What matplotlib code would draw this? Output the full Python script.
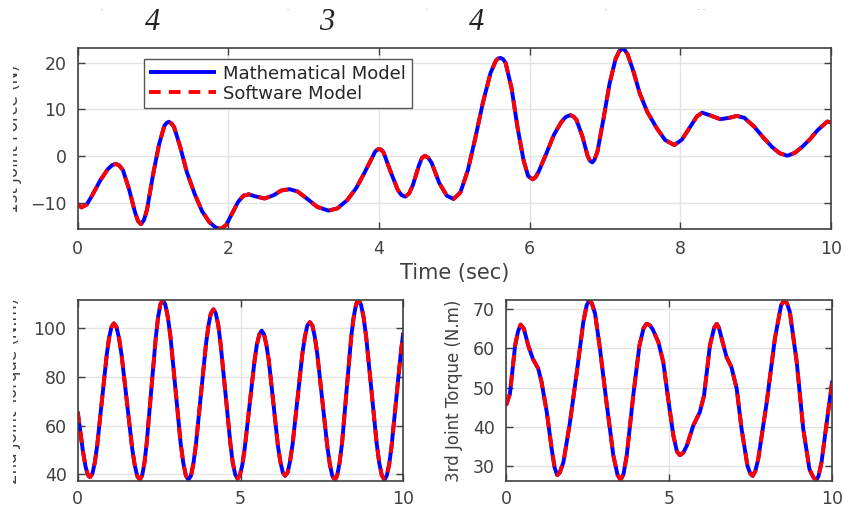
import matplotlib
matplotlib.use("Agg")
from matplotlib import pyplot as plt
from matplotlib.transforms import Bbox, TransformedBbox

# 1st joint force (N) vs time (sec)
t_force = [0.00, 0.05, 0.12, 0.20, 0.30, 0.40, 0.46, 0.51, 0.55, 0.60, 0.68, 0.76,
           0.80, 0.84, 0.88, 0.92, 1.00, 1.08, 1.15, 1.18, 1.21, 1.245, 1.28, 1.36,
           1.45, 1.55, 1.65, 1.75, 1.83, 1.90, 1.97, 2.05, 2.13, 2.20, 2.27, 2.35,
           2.48, 2.60, 2.70, 2.81, 2.92, 3.05, 3.18, 3.33, 3.45, 3.58, 3.70, 3.80,
           3.90, 3.95, 3.99, 4.025, 4.06, 4.15, 4.25, 4.30, 4.35, 4.40, 4.45, 4.53,
           4.57, 4.61, 4.655, 4.70, 4.80, 4.90, 4.99, 5.08, 5.18, 5.28, 5.38, 5.48,
           5.55, 5.58, 5.61, 5.645, 5.68, 5.76, 5.84, 5.92, 5.98, 6.04, 6.08, 6.12,
           6.22, 6.32, 6.42, 6.48, 6.54, 6.58, 6.62, 6.70, 6.77, 6.80, 6.83, 6.86,
           6.90, 6.98, 7.06, 7.14, 7.19, 7.23, 7.265, 7.30, 7.38, 7.46, 7.56, 7.69,
           7.80, 7.92, 8.02, 8.12, 8.22, 8.29, 8.40, 8.53, 8.65, 8.75, 8.85, 8.98,
           9.10, 9.22, 9.32, 9.42, 9.52, 9.62, 9.72, 9.82, 9.95, 10.00]
force = [-10.3, -11.0, -10.4, -8.2, -5.2, -2.8, -1.9, -1.7, -2.0, -3.0, -7.0, -12.0,
         -13.9, -14.6, -13.7, -11.5, -4.0, 2.5, 6.5, 7.1, 7.35, 7.0, 6.2, 2.0,
         -3.5, -8.0, -11.8, -14.2, -15.3, -15.6, -14.8, -12.3, -9.8, -8.5, -8.2, -8.6,
         -9.1, -8.4, -7.4, -7.1, -7.6, -9.2, -10.9, -11.7, -11.2, -9.4, -6.8, -3.8,
         -0.6, 1.0, 1.5, 1.4, 0.8, -3.2, -7.3, -8.4, -8.7, -8.0, -6.2, -2.0,
         -0.4, 0.07, -0.4, -1.5, -5.8, -8.5, -9.2, -7.8, -3.0, 4.0, 11.5, 17.8,
         20.4, 20.9, 21.05, 20.8, 20.0, 14.5, 6.0, -1.0, -4.3, -5.0, -4.5, -3.3,
         0.5, 4.5, 7.3, 8.4, 8.78, 8.5, 7.8, 4.2, 0.0, -1.0, -1.36, -0.8,
         1.0, 8.0, 15.5, 20.8, 22.5, 23.0, 22.7, 21.8, 18.0, 13.5, 9.5, 5.9,
         3.4, 2.36, 3.5, 6.0, 8.5, 9.3, 8.7, 7.9, 8.2, 8.6, 8.2, 6.3,
         4.0, 1.9, 0.6, 0.07, 0.7, 2.0, 3.6, 5.5, 7.4, 7.2]

# 2nd joint torque (N.m)
t_tau2 = [0.00, 0.08, 0.16, 0.24, 0.31, 0.35, 0.38, 0.453, 0.526, 0.599, 0.745, 0.891,
          0.964, 1.037, 1.11, 1.19, 1.27, 1.35, 1.51, 1.67, 1.75, 1.83, 1.91, 1.98,
          2.05, 2.12, 2.26, 2.40, 2.47, 2.54, 2.61, 2.69, 2.768, 2.85, 3.005, 3.16,
          3.242, 3.32, 3.40, 3.48, 3.554, 3.63, 3.785, 3.94, 4.016, 4.09, 4.17, 4.24,
          4.318, 4.39, 4.54, 4.69, 4.762, 4.84, 4.91, 4.98, 5.058, 5.13, 5.28, 5.43,
          5.502, 5.58, 5.65, 5.72, 5.794, 5.87, 6.01, 6.15, 6.226, 6.30, 6.37, 6.45,
          6.522, 6.60, 6.75, 6.90, 6.978, 7.05, 7.13, 7.21, 7.284, 7.36, 7.515, 7.67,
          7.746, 7.82, 7.90, 7.97, 8.044, 8.12, 8.26, 8.40, 8.476, 8.55, 8.62, 8.70,
          8.78, 8.86, 9.02, 9.18, 9.26, 9.34, 9.42, 9.49, 9.566, 9.64, 9.785, 9.93,
          10.0]
tau2 = [65.7, 57.5, 49.5, 43.2, 39.8, 39.1, 38.8, 40.3, 44.8, 51.8, 70.4, 89.0,
        96.0, 100.5, 102.0, 100.5, 95.9, 88.8, 69.9, 50.9, 43.8, 39.2, 37.7, 39.5,
        44.7, 52.9, 74.7, 96.4, 104.6, 109.8, 111.6, 109.8, 104.6, 96.4, 74.7, 52.9,
        44.7, 39.5, 37.7, 39.4, 44.4, 52.1, 72.8, 93.4, 101.1, 106.1, 107.8, 106.1,
        101.2, 93.4, 73.0, 52.5, 44.7, 39.8, 38.1, 39.6, 43.9, 50.6, 68.6, 86.5,
        93.2, 97.5, 99.0, 97.6, 93.3, 86.7, 69.2, 51.6, 45.0, 40.7, 39.3, 40.8,
        45.3, 52.3, 70.9, 89.5, 96.5, 101.0, 102.5, 101.0, 96.3, 89.2, 70.1, 51.0,
        43.9, 39.3, 37.7, 39.5, 44.7, 52.9, 74.7, 96.4, 104.6, 109.8, 111.6, 109.8,
        104.6, 96.4, 74.7, 52.9, 44.7, 39.5, 37.7, 39.3, 44.0, 51.5, 71.1, 90.7,
        98.2]

# 3rd joint torque (N.m)
t_tau3 = [0.00, 0.12, 0.28, 0.37, 0.45, 0.55, 0.68, 0.82, 0.99, 1.09, 1.25, 1.40,
          1.49, 1.57, 1.65, 1.76, 1.96, 2.17, 2.37, 2.47, 2.55, 2.63, 2.73, 2.88,
          3.08, 3.29, 3.42, 3.51, 3.60, 3.70, 3.90, 4.09, 4.22, 4.31, 4.40, 4.49,
          4.67, 4.82, 4.97, 5.13, 5.24, 5.33, 5.43, 5.54, 5.74, 5.94, 6.07, 6.25,
          6.38, 6.46, 6.53, 6.61, 6.76, 6.91, 7.07, 7.22, 7.40, 7.48, 7.56, 7.64,
          7.73, 7.99, 8.24, 8.43, 8.52, 8.61, 8.70, 8.91, 9.11, 9.30, 9.41, 9.50,
          9.58, 9.67, 9.83, 10.0]
tau3 = [45.4, 48.4, 60.8, 64.4, 66.1, 65.0, 60.8, 57.4, 54.8, 51.4, 43.7, 34.3,
        29.5, 27.6, 28.3, 30.9, 41.1, 53.9, 66.8, 71.0, 72.3, 71.6, 68.9, 59.9,
        46.2, 32.6, 27.6, 26.4, 27.8, 32.6, 48.0, 60.8, 65.3, 66.3, 66.0, 65.0,
        61.6, 56.5, 47.1, 37.7, 33.6, 32.7, 33.3, 35.1, 40.3, 43.7, 48.0, 60.8,
        65.3, 66.3, 65.2, 62.5, 57.8, 55.2, 49.7, 39.4, 30.0, 28.1, 27.4, 28.6,
        31.7, 46.2, 62.5, 71.0, 72.3, 71.6, 69.3, 56.5, 39.4, 29.1, 27.2, 26.2,
        27.4, 30.9, 41.1, 51.8]

plt.rcParams['font.family'] = ['DejaVu Sans']
W, H = 844, 508
fig = plt.figure(figsize=(W / 100, H / 100), dpi=100)

frame_col = '#404040'
text_col = '#404040'


def style_axes(ax, xlim, ylim, xticks, yticks, xpad=8):
    ax.set_xlim(*xlim)
    ax.set_ylim(*ylim)
    ax.set_xticks(xticks)
    ax.set_yticks(yticks)
    ax.grid(True, color='#e3e3e3', lw=1.0)
    ax.set_axisbelow(True)
    ax.tick_params(direction='in', length=5, width=1, colors=frame_col,
                   labelcolor=text_col, labelsize=12.5, pad=8,
                   top=True, right=True)
    ax.tick_params(axis='x', pad=xpad)
    for s in ax.spines.values():
        s.set_color(frame_col)
        s.set_linewidth(1.2)


def draw_pair(ax, t, y):
    ax.plot(t, y, color=(0, 0, 1), lw=2.8, solid_capstyle='butt',
            solid_joinstyle='round', label='Mathematical Model')
    ln, = ax.plot(t, y, color=(1, 0, 0), lw=2.8, ls='--',
                  label='Software Model')
    ln.set_dashes([3.0, 2.1])
    ln.set_dash_capstyle('butt')
    ln.set_dash_joinstyle('round')


def px_axes(x0, y0, x1, y1):
    return fig.add_axes([x0 / W, 1 - y1 / H, (x1 - x0) / W, (y1 - y0) / H])


clip = TransformedBbox(Bbox([[12.5 / W, 0], [1, 1]]), fig.transFigure)

# top panel
ax1 = px_axes(77.7, 48.3, 831.0, 229.3)
draw_pair(ax1, t_force, force)
style_axes(ax1, (0, 10), (-15.7, 23.1), range(0, 11, 2), [-10, 0, 10, 20])
ax1.set_xlabel('Time (sec)', fontsize=15, color=text_col, labelpad=3)
ax1.set_ylabel('1st Joint Force (N)', fontsize=12, color=text_col)
ax1.yaxis.set_label_coords(-0.0745, 0.5)
ax1.yaxis.label.set_clip_box(clip)
ax1.yaxis.label.set_clip_on(True)
leg = ax1.legend(loc='upper left', bbox_to_anchor=(0.088, 0.939), borderaxespad=0,
                 fontsize=13, handlelength=3.7, handletextpad=0.4,
                 labelspacing=0.1, borderpad=0.3, fancybox=False, framealpha=1)
leg.get_frame().set_edgecolor('#555555')
leg.get_frame().set_linewidth(1.0)
for txt in leg.get_texts():
    txt.set_color('#262626')

# bottom left
ax2 = px_axes(77.7, 300.0, 403.3, 481.0)
draw_pair(ax2, t_tau2, tau2)
style_axes(ax2, (0, 10), (37.2, 111.6), [0, 5, 10], [40, 60, 80, 100], xpad=6.5)
ax2.set_ylabel('2nd Joint Torque (N.m)', fontsize=12, color=text_col)
ax2.yaxis.set_label_coords(-0.175, 0.5)
ax2.yaxis.label.set_clip_box(clip)
ax2.yaxis.label.set_clip_on(True)

# bottom right
ax3 = px_axes(506.0, 300.0, 832.3, 481.0)
draw_pair(ax3, t_tau3, tau3)
style_axes(ax3, (0, 10), (26.1, 72.4), [0, 5, 10], [30, 40, 50, 60, 70], xpad=6.5)
ax3.set_ylabel('3rd Joint Torque (N.m)', fontsize=12, color=text_col)
ax3.yaxis.set_label_coords(-0.133, 0.5)

# leftover caption fragments at the top edge
for xp, s in [(153, '4'), (327, '3'), (477, '4')]:
    fig.text(xp / W, 1 - 22 / H, s, fontfamily='Liberation Serif', style='italic',
             fontsize=22, ha='center', va='center', color='#222222')
for xp in [101, 287, 426, 605, 698, 703]:
    fig.text(xp / W, 1 - 8 / H, '.', fontsize=5, ha='center', va='center',
             color='#777777')

fig.savefig('out.png', dpi=100)
